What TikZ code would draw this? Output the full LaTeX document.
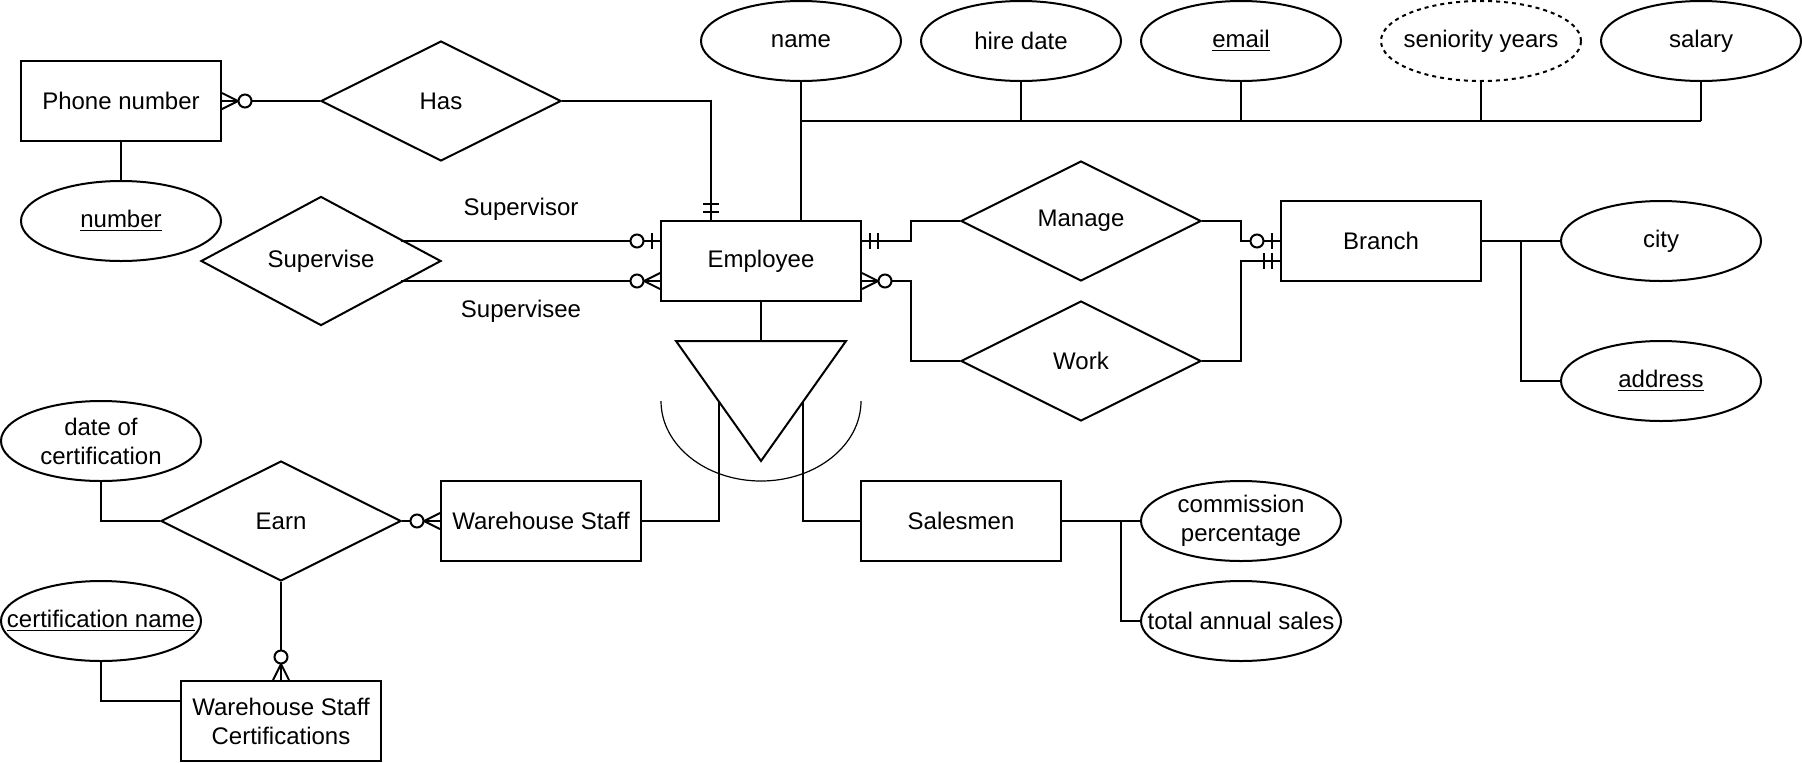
\documentclass[tikz,border=0pt]{standalone}
\usepackage{fontspec}
\setmainfont{Liberation Sans}
\usetikzlibrary{shapes.geometric,calc}
\tikzset{
  entity/.style={rectangle,draw,fill=white,minimum width=100pt,minimum height=40pt,align=center},
  rel/.style={diamond,draw,fill=white,minimum width=120pt,minimum height=60pt,inner sep=0pt},
  attr/.style={ellipse,draw,minimum width=100pt,minimum height=40pt,inner sep=0pt,label={[align=center]center:#1}},
  derived/.style={dash pattern=on 2pt off 2pt},
  thinline/.style={line width=0.6pt},
  pics/onlyone/.style={code={\draw (8,-8)--(8,8) (16,-8)--(16,8);}},
  pics/zeroone/.style={code={\draw (8,-8)--(8,8); \draw[fill=white] (23,0) circle (3.25pt);}},
  pics/zeromany/.style={code={\draw (0,-8)--(16,0)--(0,8); \draw[fill=white] (23,0) circle (3.25pt);}}
}
\begin{document}
\begin{tikzpicture}[x=0.5pt,y=-0.5pt,line width=1pt,font=\fontsize{12pt}{14.5pt}\selectfont]
\useasboundingbox (-1,-1) rectangle (1801,761);
\node[entity] (phone) at (120,100) {Phone number};
\node[attr=\underline{number}] (num) at (120,220) {};
\node[rel] (has) at (440,100) {Has};
\node[entity] (emp) at (760,260) {Employee};
\node[attr=name] (aname) at (800,40) {};
\node[attr=hire date] (hire) at (1020,40) {};
\node[attr=\underline{email}] (email) at (1240,40) {};
\node[attr=seniority years,derived] (senior) at (1480,40) {};
\node[attr=salary] (salary) at (1700,40) {};
\node[rel] (sup) at (320,260) {Supervise};
\node (supor) at (520,208) {Supervisor};
\node (supee) at (520,310) {Supervisee};
\node[rel] (manage) at (1080,220) {Manage};
\node[rel] (work) at (1080,360) {Work};
\node[entity] (branch) at (1380,240) {Branch};
\node[attr=city] (city) at (1660,240) {};
\node[attr=\underline{address}] (addr) at (1660,380) {};
\node[entity] (ws) at (540,520) {Warehouse Staff};
\node[entity] (sales) at (960,520) {Salesmen};
\node[attr={commission\\percentage}] (comm) at (1240,520) {};
\node[attr=total annual sales] (total) at (1240,620) {};
\node[rel] (earn) at (280,520) {Earn};
\node[attr={date of\\certification}] (cdate) at (100,440) {};
\node[attr=\underline{certification name}] (cname) at (100,620) {};
\node[entity] (wsc) at (280,720) {Warehouse Staff\\Certifications};
\coordinate (bus) at (0,120);
\coordinate (isa) at (760,340);
\coordinate (supa) at ($(sup.center)+(80,-20)$);
\coordinate (supb) at ($(sup.center)+(80,20)$);
\draw (phone.south) -- (num.north);
\draw (phone.east) -- (has.west);
\pic at (phone.east) {zeromany};
\draw (has.east) -| ($(emp.north)+(-50,0)$);
\pic[rotate=90] at ($(emp.north)+(-50,0)$) {onlyone};
\draw[thinline] (aname.south) -- (emp.north -| aname.south);
\draw (aname.south |- bus) -- (salary.south |- bus);
\foreach \a in {hire,email,senior,salary}
  \draw[thinline] (\a.south) -- (\a.south |- bus);
\draw (supa) -- (supa -| emp.west);
\pic[rotate=180] at (supa -| emp.west) {zeroone};
\draw (supb) -- (supb -| emp.west);
\pic[rotate=180] at (supb -| emp.west) {zeromany};
\draw ($(emp.east)+(0,-20)$) -- (910,240) |- (manage.west);
\pic at ($(emp.east)+(0,-20)$) {onlyone};
\draw ($(emp.east)+(0,20)$) -- (910,280) |- (work.west);
\pic at ($(emp.east)+(0,20)$) {zeromany};
\draw (manage.east) -| (1240,240) -- (branch.west);
\pic[rotate=180] at (branch.west) {zeroone};
\draw (work.east) -| (1240,260) -- ($(branch.west)+(0,20)$);
\pic[rotate=180] at ($(branch.west)+(0,20)$) {onlyone};
\draw (branch.east) -- (city.west);
\draw ($(branch.east)!.5!(city.west)$) |- (addr.west);
\draw (emp.south) -- (isa);
\draw (isa) ++(-85,0) -- ++(170,0) -- (760,460) -- cycle;
\draw[thinline] (660,400) arc[start angle=180,end angle=360,x radius=50pt,y radius=40pt];
\draw[thinline] (718,400) |- (ws.east);
\draw[thinline] (802,400) |- (sales.west);
\draw (sales.east) -- (comm.west);
\draw ($(sales.east)!.75!(comm.west)$) |- (total.west);
\draw (earn.east) -- (ws.west);
\pic[rotate=180] at (ws.west) {zeromany};
\draw (cdate.south) |- (earn.west);
\draw (earn.south) -- (wsc.north);
\pic[rotate=90] at (wsc.north) {zeromany};
\draw (cname.south) |- ($(wsc.west)+(0,-20)$);
\end{tikzpicture}
\end{document}
